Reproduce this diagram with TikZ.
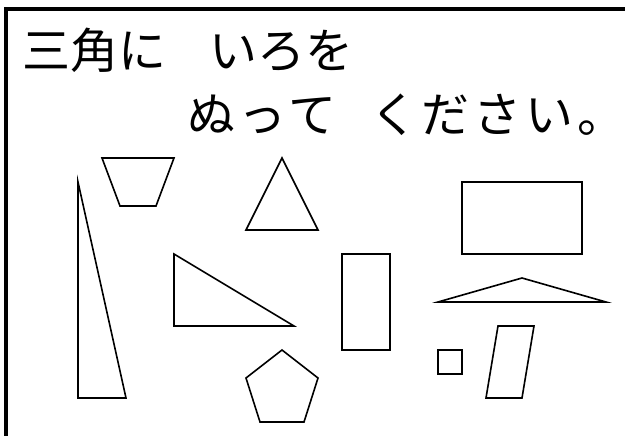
\documentclass[tikz,border=0pt]{standalone}
\usepackage{fontspec}
\newfontfamily\jpfont{Noto Sans CJK JP}

\tikzset{
		sheet/.style={x=1pt,y=-1pt},
		frame/.style={draw,line width=4pt,line join=miter},
		figure/.style={draw,line width=1.6pt,line join=miter},
		jptext/.style={anchor=base west,inner sep=0pt,font=\jpfont\fontsize{48}{48}\selectfont}
	}

\begin{document}
\begin{tikzpicture}[sheet]
				\useasboundingbox (0,0) rectangle (625,436);
				\draw[frame] (6,436) -- (6,9) -- (625,9);
				\node[jptext] (line1) at (22,69) {三角に\hspace{0.9em}いろを};
				\node[jptext] (line2) at (187,133) {\addfontfeature{LetterSpace=8}ぬって\hspace{0.7em}ください。};
				% triangles
				\draw[figure] (78,182) -- (78,398) -- (126,398) -- cycle;
				\draw[figure] (282,158) -- (318,230) -- (246,230) -- cycle;
				\draw[figure] (174,254) -- (174,326) -- (294,326) -- cycle;
				\draw[figure] (522,278) -- (606,302) -- (438,302) -- cycle;
				% other shapes
				\draw[figure] (102,158) -- (174,158) -- (156,206) -- (120,206) -- cycle;
				\draw[figure] (282,350) -- (318,378) -- (304,422) -- (260,422) -- (246,378) -- cycle;
				\draw[figure] (342,254) rectangle (390,350);
				\draw[figure] (462,182) rectangle (582,254);
				\draw[figure] (438,350) rectangle (462,374);
				\draw[figure] (498,326) -- (534,326) -- (522,398) -- (486,398) -- cycle;
			\end{tikzpicture}
\end{document}
